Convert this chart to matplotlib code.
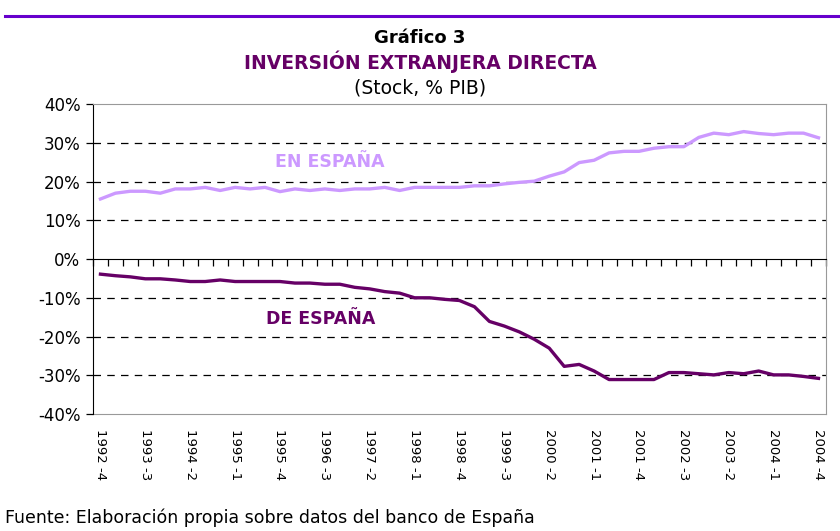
import numpy as np
import matplotlib
matplotlib.use("Agg")
import matplotlib.pyplot as plt

# quarterly series, 1992-4 .. 2004-4
quarters = [f"{y} -{q}" for y in range(1992, 2005) for q in range(1, 5)][3:]
en_espana = [15.5, 17.0, 17.5, 17.5, 17.0, 18.1, 18.1, 18.5, 17.7, 18.5,
             18.1, 18.5, 17.4, 18.1, 17.7, 18.1, 17.7, 18.1, 18.1, 18.5,
             17.7, 18.5, 18.5, 18.5, 18.5, 18.9, 18.9, 19.4, 19.8, 20.1,
             21.4, 22.5, 24.9, 25.5, 27.4, 27.8, 27.8, 28.6, 29.0, 29.0,
             31.4, 32.5, 32.1, 32.9, 32.4, 32.1, 32.5, 32.5, 31.3]
de_espana = [-3.9, -4.3, -4.6, -5.1, -5.1, -5.4, -5.8, -5.8, -5.4, -5.8,
             -5.8, -5.8, -5.8, -6.2, -6.2, -6.5, -6.5, -7.3, -7.7, -8.4,
             -8.8, -10.0, -10.0, -10.4, -10.7, -12.3, -16.1, -17.3, -18.8, -20.7,
             -23.0, -27.7, -27.2, -28.9, -31.1, -31.1, -31.1, -31.1, -29.3, -29.3,
             -29.6, -29.9, -29.3, -29.6, -28.9, -29.9, -29.9, -30.3, -30.8]
yticks = [40, 30, 20, 10, 0, -10, -20, -30, -40]

light = "#CC99FF"
dark = "#660066"

fig = plt.figure(figsize=(8.4, 5.31), dpi=100)
ax = fig.add_axes([0.1107, 0.2203, 0.8726, 0.5837])

x = np.arange(len(quarters))
ax.plot(x, en_espana, color=light, lw=2.4, solid_joinstyle="round")
ax.plot(x, de_espana, color=dark, lw=2.4, solid_joinstyle="round")

ax.set_xlim(-0.5, len(quarters) - 0.5)
ax.set_ylim(-40, 40)
ax.set_yticks(yticks, labels=[f"{v}%" for v in yticks])
for v in yticks:
    if v not in (40, 0, -40):
        ax.axhline(v, color="black", lw=0.9, dashes=(6, 5), zorder=0)

# zero axis with quarter tick marks
ax.spines["bottom"].set_position(("data", 0))
ax.spines["bottom"].set_color("black")
ax.set_xticks(np.arange(-0.5, len(quarters), 1))
ax.tick_params(axis="x", direction="out", length=5, width=0.9, labelbottom=False)
ax.tick_params(axis="y", direction="out", length=5, width=0.9, labelsize=12, pad=4)
ax.spines["left"].set_color("black")
for s in ("top", "right"):
    ax.spines[s].set_color("#999999")

sec = ax.secondary_xaxis("bottom")
sec.set_xticks(x[::3], labels=quarters[::3], rotation=270, fontsize=9.5)
sec.tick_params(length=0, pad=11)
sec.spines["bottom"].set_color("#999999")

ax.text(15.3, 25.0, "EN ESPAÑA", color=light, fontsize=12.5, fontweight="bold",
        ha="center", va="center")
ax.text(14.7, -15.4, "DE ESPAÑA", color=dark, fontsize=12.5, fontweight="bold",
        ha="center", va="center")

fig.text(0.5, 1 - 38 / 531, "Gráfico 3", ha="center", va="center",
         fontsize=13, fontweight="bold")
fig.text(0.5, 1 - 62 / 531, "INVERSIÓN EXTRANJERA DIRECTA", ha="center", va="center",
         fontsize=13.5, fontweight="bold", color=dark)
fig.text(0.5, 1 - 88 / 531, "(Stock, % PIB)", ha="center", va="center", fontsize=13.5)
fig.text(5 / 840, 1 - 518 / 531, "Fuente: Elaboración propia sobre datos del banco de España",
         ha="left", va="center", fontsize=12.5)
fig.add_artist(plt.Line2D([5 / 840, 1], [1 - 16 / 531] * 2, color="#6600CC", lw=2.2))

fig.savefig("out.png", dpi=100)
